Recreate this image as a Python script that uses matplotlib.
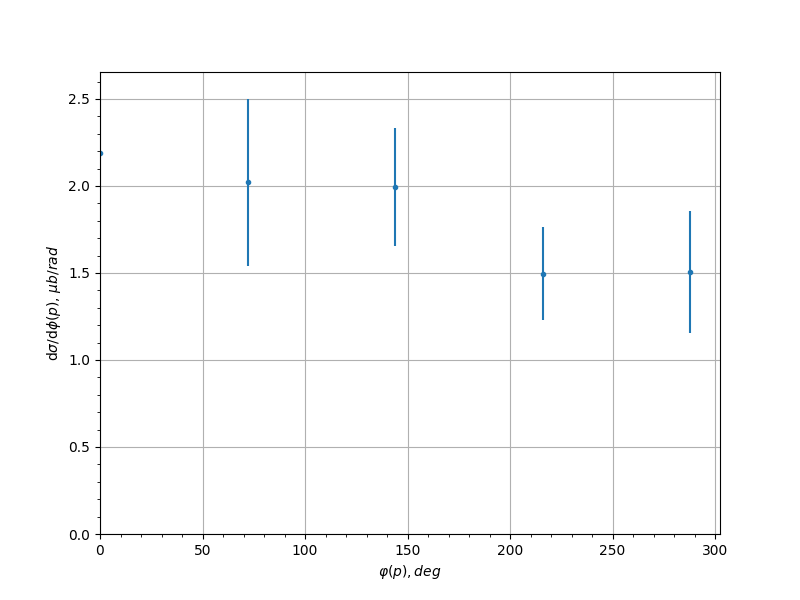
import numpy as np
import matplotlib
matplotlib.use('Agg')
import matplotlib.pyplot as plt

phi = [0, 72, 144, 216, 288]
xsec = [2.19, 2.022, 1.994, 1.496, 1.505]
xsec_err = [0.0, 0.48, 0.34, 0.268, 0.35]

fig, ax = plt.subplots(figsize=(8, 6), dpi=100)
ax.errorbar(phi, xsec, yerr=xsec_err, fmt='.')
ax.set_xlim(0, 302.4)
ax.set_ylim(0, 2.655)
ax.minorticks_on()
ax.grid(which='major')
ax.set_xlabel(r'$\varphi(p), deg$')
ax.set_ylabel(r'd$\sigma$/d$\phi(p)$, $\mu b/rad$')

fig.savefig('out.png')
